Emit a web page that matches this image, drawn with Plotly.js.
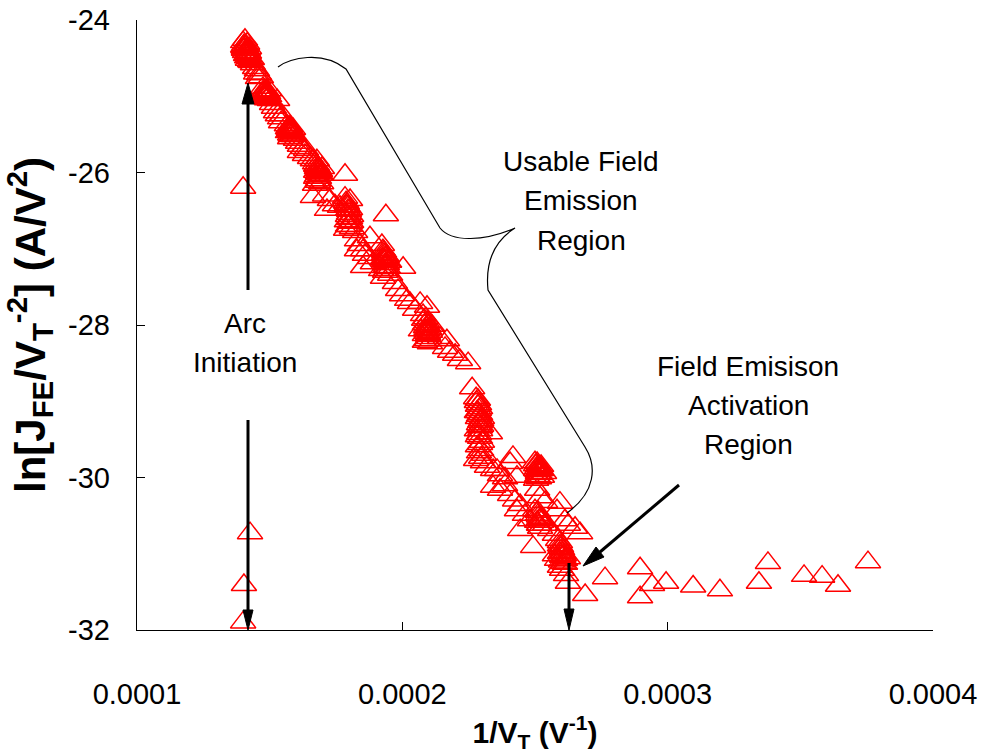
<!DOCTYPE html>
<html>
<head>
<meta charset="utf-8">
<script src="https://cdn.plot.ly/plotly-3.0.1.min.js"></script>
<style>html,body{margin:0;padding:0;background:#fff;}#chart{width:984px;height:753px;}</style>
</head>
<body>
<div id="chart"></div>
<script>
// ---- data (1/V_T in V^-1, ln[J/V^2]) ----
const bandX = [
0.0001400,0.0001403,0.0001407,0.0001411,0.0001415,0.0001418,0.0001422,0.0001426,0.0001403,0.0001411,0.0001418,0.0001430,0.0001437,0.0001407,0.0001422,
0.0001445,0.0001452,0.0001460,0.0001467,0.0001449,0.0001456,
0.0001475,0.0001479,0.0001482,0.0001486,0.0001490,0.0001494,0.0001471,0.0001501,0.0001509,0.0001498,0.0001528,
0.0001516,0.0001524,0.0001531,0.0001539,0.0001547,0.0001543,
0.0001565,0.0001569,0.0001573,0.0001577,0.0001580,0.0001584,0.0001588,0.0001592,0.0001577,0.0001599,
0.0001607,0.0001614,0.0001626,0.0001637,0.0001614,0.0001633,0.0001652,0.0001663,
0.0001671,0.0001675,0.0001678,0.0001682,0.0001686,0.0001690,0.0001675,0.0001682,0.0001694,0.0001671,0.0001697,0.0001678,0.0001784,
0.0001663,0.0001709,0.0001727,0.0001746,0.0001765,0.0001716,
0.0001784,0.0001788,0.0001791,0.0001795,0.0001799,0.0001803,0.0001807,0.0001795,0.0001788,0.0001810,0.0001822,0.0001803,0.0001938,0.0001878,
0.0001829,0.0001840,0.0001852,0.0001829,0.0001859,0.0001878,0.0001852,0.0001889,
0.0001923,0.0001927,0.0001931,0.0001935,0.0001938,0.0001942,0.0001946,0.0001935,0.0001920,0.0001954,0.0001927,0.0001950,0.0002003,
0.0001972,0.0001984,0.0001999,0.0002018,0.0002029,0.0002067,0.0002093,0.0002048,
0.0002078,0.0002082,0.0002085,0.0002089,0.0002093,0.0002097,0.0002101,0.0002085,0.0002104,0.0002112,0.0002070,
0.0002142,0.0002168,0.0002180,0.0002161,0.0002199,0.0002217,0.0002248,0.0002263,
0.0002278,0.0002281,0.0002285,0.0002289,0.0002293,0.0002285,0.0002293,0.0002297,0.0002281,0.0002289,0.0002293,0.0002300,0.0002285,0.0002297,0.0002308,0.0002278,0.0002304,0.0002293,0.0002330,
0.0002319,0.0002342,0.0002357,0.0002368,0.0002387,0.0002406,0.0002342,0.0002368,0.0002387,0.0002406,0.0002425,0.0002417,0.0002432,0.0002432,0.0002444,0.0002444,0.0002462,
0.0002500,0.0002504,0.0002508,0.0002511,0.0002515,0.0002519,0.0002526,0.0002504,0.0002523,0.0002534,
0.0002508,0.0002519,0.0002538,0.0002500,0.0002511,0.0002519,0.0002481,0.0002493,0.0002538,0.0002557,0.0002575,0.0002594,0.0002583,0.0002613,0.0002624,0.0002670,0.0002651,
0.0002587,0.0002594,0.0002598,0.0002602,0.0002606,0.0002609,0.0002613,0.0002594,0.0002583,0.0002624,0.0002602,0.0002617,0.0002575,0.0002624,0.0002689,0.0002764
];
const bandY = [
-24.29,-24.33,-24.35,-24.39,-24.42,-24.45,-24.47,-24.50,-24.39,-24.46,-24.52,-24.55,-24.58,-24.26,-24.37,
-24.63,-24.66,-24.71,-24.75,-24.70,-24.76,
-24.89,-24.94,-24.98,-25.01,-25.04,-24.96,-24.98,-25.05,-25.10,-24.92,-25.05,
-25.15,-25.21,-25.25,-25.29,-25.25,-25.34,
-25.38,-25.42,-25.44,-25.40,-25.47,-25.50,-25.43,-25.52,-25.55,-25.57,
-25.61,-25.65,-25.68,-25.70,-25.73,-25.77,-25.81,-25.84,
-25.88,-25.91,-25.94,-25.97,-25.99,-26.03,-26.07,-26.10,-26.14,-26.16,-25.94,-25.84,-26.03,
-26.32,-26.30,-26.36,-26.43,-26.45,-26.49,
-26.33,-26.39,-26.44,-26.49,-26.54,-26.60,-26.65,-26.70,-26.75,-26.73,-26.78,-26.36,-26.56,-26.85,
-26.89,-26.95,-27.02,-27.02,-27.08,-27.12,-27.24,-27.19,
-26.95,-27.02,-27.07,-27.11,-27.15,-27.20,-27.25,-27.30,-27.28,-27.34,-27.38,-27.17,-27.25,
-27.45,-27.54,-27.61,-27.67,-27.71,-27.71,-27.76,-27.80,
-27.87,-27.93,-27.99,-28.03,-28.07,-28.12,-28.17,-28.22,-28.24,-28.01,-28.07,
-28.17,-28.20,-28.35,-28.30,-28.39,-28.46,-28.50,-28.83,
-28.96,-29.01,-29.06,-29.11,-29.17,-29.22,-29.27,-29.32,-29.38,-29.43,-29.48,-29.53,-29.59,-29.64,-29.70,-29.77,-29.80,-29.34,-29.42,
-29.86,-29.90,-29.90,-29.97,-30.01,-29.81,-30.12,-30.16,-30.10,-30.23,-30.30,-29.73,-29.99,-30.43,-30.36,-30.69,-30.49,
-29.80,-29.84,-29.88,-29.91,-29.95,-29.90,-29.99,-30.03,-29.85,-29.94,
-30.16,-30.26,-30.32,-30.43,-30.49,-30.56,-30.56,-30.91,-30.62,-30.69,-30.75,-30.33,-30.43,-30.56,-30.62,-30.73,-30.66,
-30.82,-30.89,-30.92,-30.98,-31.03,-31.08,-31.13,-31.17,-31.08,-31.06,-31.21,-31.28,-31.02,-31.38,-31.54,-31.32
];
// repeated readings inside the dense clusters
const clusterX = [
0.0001403,0.0001407,0.0001411,0.0001415,0.0001418,0.0001422,0.0001426,0.0001415,0.0001433,0.0001400,
0.0001479,0.0001482,0.0001486,0.0001490,0.0001494,0.0001482,0.0001490,0.0001498,
0.0001573,0.0001577,0.0001580,0.0001584,0.0001577,0.0001569,0.0001588,0.0001580,
0.0001678,0.0001682,0.0001686,0.0001682,0.0001678,0.0001690,0.0001686,0.0001675,0.0001694,0.0001682,
0.0001791,0.0001795,0.0001799,0.0001803,0.0001795,0.0001799,0.0001803,0.0001791,0.0001807,0.0001799,
0.0001931,0.0001935,0.0001938,0.0001931,0.0001942,0.0001935,0.0001938,0.0001927,0.0001946,0.0001938,
0.0002089,0.0002093,0.0002097,0.0002089,0.0002093,0.0002101,0.0002097,0.0002085,0.0002093,0.0002104,
0.0002285,0.0002289,0.0002293,0.0002285,0.0002289,0.0002297,0.0002289,0.0002293,0.0002285,0.0002293,0.0002289,0.0002297,0.0002281,0.0002300,
0.0002508,0.0002511,0.0002515,0.0002519,0.0002511,0.0002508,0.0002519,0.0002523,0.0002515,0.0002504,
0.0002511,0.0002515,0.0002519,0.0002523,0.0002515,0.0002526,0.0002508,0.0002519,
0.0002594,0.0002598,0.0002602,0.0002606,0.0002602,0.0002609,0.0002598,0.0002606,0.0002613,0.0002594
];
const clusterY = [
-24.37,-24.42,-24.34,-24.49,-24.39,-24.43,-24.54,-24.31,-24.51,-24.35,
-24.92,-24.96,-25.00,-24.97,-25.01,-25.02,-24.93,-25.00,
-25.40,-25.46,-25.43,-25.46,-25.50,-25.47,-25.48,-25.52,
-25.90,-25.93,-25.95,-26.01,-26.05,-25.98,-26.07,-25.99,-26.03,-26.12,
-26.41,-26.45,-26.50,-26.48,-26.57,-26.61,-26.66,-26.64,-26.57,-26.70,
-27.04,-27.08,-27.12,-27.16,-27.10,-27.20,-27.24,-27.13,-27.17,-27.28,
-27.91,-27.96,-28.01,-28.07,-28.10,-28.05,-28.14,-28.13,-28.20,-28.09,
-28.98,-29.04,-29.09,-29.14,-29.19,-29.25,-29.30,-29.38,-29.46,-29.56,-29.67,-29.74,-29.14,-29.22,
-29.81,-29.85,-29.89,-29.86,-29.94,-29.98,-29.95,-29.90,-30.01,-29.90,
-30.45,-30.51,-30.54,-30.58,-30.62,-30.53,-30.58,-30.66,
-30.85,-30.90,-30.94,-30.99,-31.04,-31.02,-31.10,-31.12,-31.08,-30.99
];
const tailX = [0.0002896,0.0002896,0.0002941,0.0002994,0.0003096,0.0003197,0.0003344,0.0003378,0.0003514,0.0003582,0.0003642,0.0003755];
const tailY = [-31.19,-31.57,-31.41,-31.38,-31.43,-31.48,-31.38,-31.12,-31.29,-31.30,-31.42,-31.11];
const arcX = [0.0001400,0.0001426,0.0001403,0.0001400];
const arcY = [-26.20,-30.73,-31.41,-31.90];

const xTickVals = [0.0001,0.0002,0.0003,0.0004];
const xTickText = ['0.0001','0.0002','0.0003','0.0004'];
const yTickVals = [-32,-30,-28,-26,-24];
const yTickText = ['-32','-30','-28','-26','-24'];
const xRange = [0.0001,0.0004];
const yRange = [-32,-24];

// ---- helpers for annotation placement (pixel -> data) ----
const PL=137, PT=20, PW=796, PH=610;
function X(p){return xRange[0]+(p-PL)/PW*(xRange[1]-xRange[0]);}
function Y(p){return yRange[1]-(p-PT)/PH*(yRange[1]-yRange[0]);}
function pathFrom(cmds){
  return cmds.map(c=>{
    let s=c[0];
    for(let i=1;i<c.length;i+=2){s+=' '+X(c[i])+','+Y(c[i+1]);}
    return s;
  }).join(' ');
}
function tri(ax,ay,bx,by,cx,cy){
  return 'M '+X(ax)+','+Y(ay)+' L '+X(bx)+','+Y(by)+' L '+X(cx)+','+Y(cy)+' Z';
}

const FONT='Liberation Sans, Arial, sans-serif';
const marker = {symbol:'triangle-up-open', size:22, color:'#ff0000', line:{color:'#ff0000', width:1.5}};
function pts(x,y){return {x:x, y:y, type:'scatter', mode:'markers', marker:marker, showlegend:false, cliponaxis:true};}
const traces = [pts(bandX,bandY), pts(clusterX,clusterY), pts(tailX,tailY), pts(arcX,arcY)];

const brace = [['M',278,67],['C',290,58,322,50,346,69],['L',440,228],['C',452,243,485,241,515,228],['C',496,240,485,260,488,290],['L',585,447],['C',597,466,596,492,567,513]];

const shapes = [
  {type:'path', xref:'x', yref:'y', path:pathFrom(brace), line:{color:'#000', width:1.2}},
  {type:'line', xref:'x', yref:'y', x0:X(248), y0:Y(290), x1:X(248), y1:Y(100), line:{color:'#000', width:3}},
  {type:'path', xref:'x', yref:'y', path:tri(248,83,242,104,254,104), fillcolor:'#000', line:{color:'#000', width:1}},
  {type:'line', xref:'x', yref:'y', x0:X(248), y0:Y(420), x1:X(248), y1:Y(612), line:{color:'#000', width:3}},
  {type:'path', xref:'x', yref:'y', path:tri(248,630,243,610,253,610), fillcolor:'#000', line:{color:'#000', width:1}},
  {type:'line', xref:'x', yref:'y', x0:X(569), y0:Y(563), x1:X(569), y1:Y(612), line:{color:'#000', width:3}},
  {type:'path', xref:'x', yref:'y', path:tri(569,630,564,609,574,609), fillcolor:'#000', line:{color:'#000', width:1}},
  {type:'line', xref:'x', yref:'y', x0:X(679), y0:Y(485), x1:X(600), y1:Y(552), line:{color:'#000', width:3}},
  {type:'path', xref:'x', yref:'y', path:tri(583,566,604,557,596,547), fillcolor:'#000', line:{color:'#000', width:1}}
];

function lab(text,px,pyy){
  return {text:text, x:X(px), y:Y(pyy), xref:'x', yref:'y', showarrow:false, xanchor:'center', yanchor:'middle',
          font:{family:FONT, size:28, color:'#000'}};
}
const annotations = [
  lab('Usable Field',581,161), lab('Emission',581,200), lab('Region',581,240),
  lab('Arc',245,323), lab('Initiation',245,362),
  lab('Field Emisison',748,366), lab('Activation',748,405), lab('Region',748,444)
];

const layout = {
  width:984, height:753,
  margin:{l:PL, r:984-PL-PW, t:PT, b:753-PT-PH},
  paper_bgcolor:'#fff', plot_bgcolor:'#fff',
  font:{family:FONT, color:'#000'},
  showlegend:false,
  xaxis:{range:xRange, tickvals:xTickVals, ticktext:xTickText, ticks:'inside', ticklen:8, tickwidth:1, tickcolor:'#000',
         showline:true, linecolor:'#000', linewidth:1.3, mirror:false, showgrid:false, zeroline:false,
         ticklabelstandoff:38, tickfont:{family:FONT, size:29, color:'#000'},
         title:{text:'<b>1/V<sub>T</sub> (V<sup>-1</sup>)</b>', font:{family:FONT, size:30, color:'#000'}, standoff:22},
         automargin:false},
  yaxis:{range:yRange, tickvals:yTickVals, ticktext:yTickText, ticks:'inside', ticklen:8, tickwidth:1, tickcolor:'#000',
         showline:true, linecolor:'#000', linewidth:1.3, mirror:false, showgrid:false, zeroline:false,
         ticklabelstandoff:20, tickfont:{family:FONT, size:29, color:'#000'},
         title:{text:'<b>ln[J<sub>FE</sub>/V<sub>T</sub><sup>-2</sup>] (A/V<sup>2</sup>)</b>', font:{family:FONT, size:42, color:'#000'}, standoff:12},
         automargin:false},
  shapes:shapes,
  annotations:annotations
};

Plotly.newPlot('chart', traces, layout, {displayModeBar:false, staticPlot:true});
</script>
</body>
</html>
